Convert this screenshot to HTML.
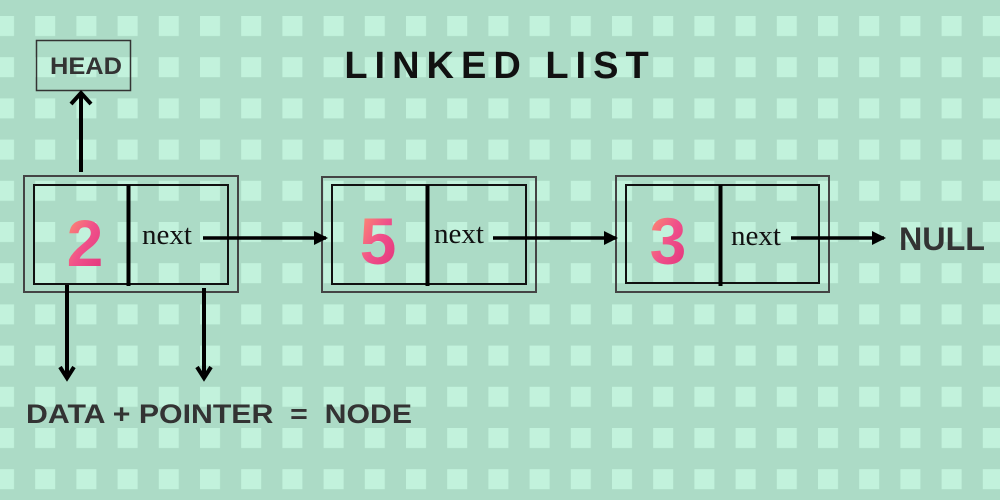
<!DOCTYPE html>
<html><head><meta charset="utf-8"><style>
html,body{margin:0;padding:0;width:1000px;height:500px;overflow:hidden;background:#acdbc6}
svg{display:block}
.b{font-family:"Liberation Sans",sans-serif;font-weight:bold;fill:#333}
.n{font-family:"Liberation Serif",serif;font-size:29px;fill:#111}
.d{font-family:"Liberation Sans",sans-serif;font-size:66px;font-weight:bold}
</style></head><body>
<svg width="1000" height="500" viewBox="0 0 1000 500">
<defs>
<pattern id="grid" x="-6" y="16" width="41.2" height="41.2" patternUnits="userSpaceOnUse"><rect width="20" height="20" fill="#c2f2dc"/></pattern>
<linearGradient id="g" x1="0" y1="0" x2="1" y2="1"><stop offset="0" stop-color="#ff9a6a"/><stop offset="0.5" stop-color="#f0508a"/><stop offset="1" stop-color="#e0307a"/></linearGradient>
<marker id="ah" markerWidth="14" markerHeight="14" refX="12" refY="7" orient="auto" markerUnits="userSpaceOnUse"><path d="M0,0 L14,7 L0,14 Z" fill="#000"/></marker>
</defs>
<rect width="1000" height="500" fill="url(#grid)"/>
<text x="500" y="78" text-anchor="middle" class="b" style="font-size:38px;letter-spacing:7px;fill:#111">LINKED LIST</text>
<g>
<rect x="36.5" y="40.5" width="94" height="50" fill="none" stroke="#333" stroke-width="1.5"/>
<text x="50" y="74" textLength="72" lengthAdjust="spacingAndGlyphs" class="b" style="font-size:24px">HEAD</text>
</g>
<path d="M81,172 V95 M71,104 L81,93 L91,104" fill="none" stroke="#000" stroke-width="4"/>
<g>
<rect x="24" y="176" width="214" height="116" fill="none" stroke="#444" stroke-width="2"/>
<rect x="34" y="185" width="194" height="99" fill="none" stroke="#111" stroke-width="2"/>
<line x1="128.5" y1="185" x2="128.5" y2="286" stroke="#000" stroke-width="4"/>
<text x="85" y="266" text-anchor="middle" class="d" fill="url(#g)">2</text>
<text x="142" y="244" class="n">next</text>
</g>
<g>
<rect x="322" y="177" width="214" height="115" fill="none" stroke="#444" stroke-width="2"/>
<rect x="332" y="185" width="194" height="99" fill="none" stroke="#111" stroke-width="2"/>
<line x1="427.5" y1="185" x2="427.5" y2="286" stroke="#000" stroke-width="4"/>
<text x="378" y="264" text-anchor="middle" class="d" fill="url(#g)">5</text>
<text x="434" y="243" class="n">next</text>
</g>
<g>
<rect x="616" y="176" width="213" height="116" fill="none" stroke="#444" stroke-width="2"/>
<rect x="626" y="185" width="193" height="98" fill="none" stroke="#111" stroke-width="2"/>
<line x1="720.5" y1="185" x2="720.5" y2="286" stroke="#000" stroke-width="4"/>
<text x="668" y="264" text-anchor="middle" class="d" fill="url(#g)">3</text>
<text x="731" y="245" class="n">next</text>
</g>
<line x1="203" y1="238" x2="326" y2="238" stroke="#000" stroke-width="3.5" marker-end="url(#ah)"/>
<line x1="493" y1="238" x2="616" y2="238" stroke="#000" stroke-width="3.5" marker-end="url(#ah)"/>
<line x1="791" y1="238" x2="884" y2="238" stroke="#000" stroke-width="3.5" marker-end="url(#ah)"/>
<text x="899" y="250" textLength="86" lengthAdjust="spacingAndGlyphs" class="b" style="font-size:32px">NULL</text>
<path d="M67,285 V374 M60,367 L67,378 L74,367" fill="none" stroke="#000" stroke-width="4"/>
<path d="M204,288 V374 M197,367 L204,378 L211,367" fill="none" stroke="#000" stroke-width="4"/>
<text x="26" y="423" textLength="386" lengthAdjust="spacingAndGlyphs" class="b" style="font-size:27px;white-space:pre" xml:space="preserve">DATA + POINTER  =  NODE</text>
</svg>
</body></html>
